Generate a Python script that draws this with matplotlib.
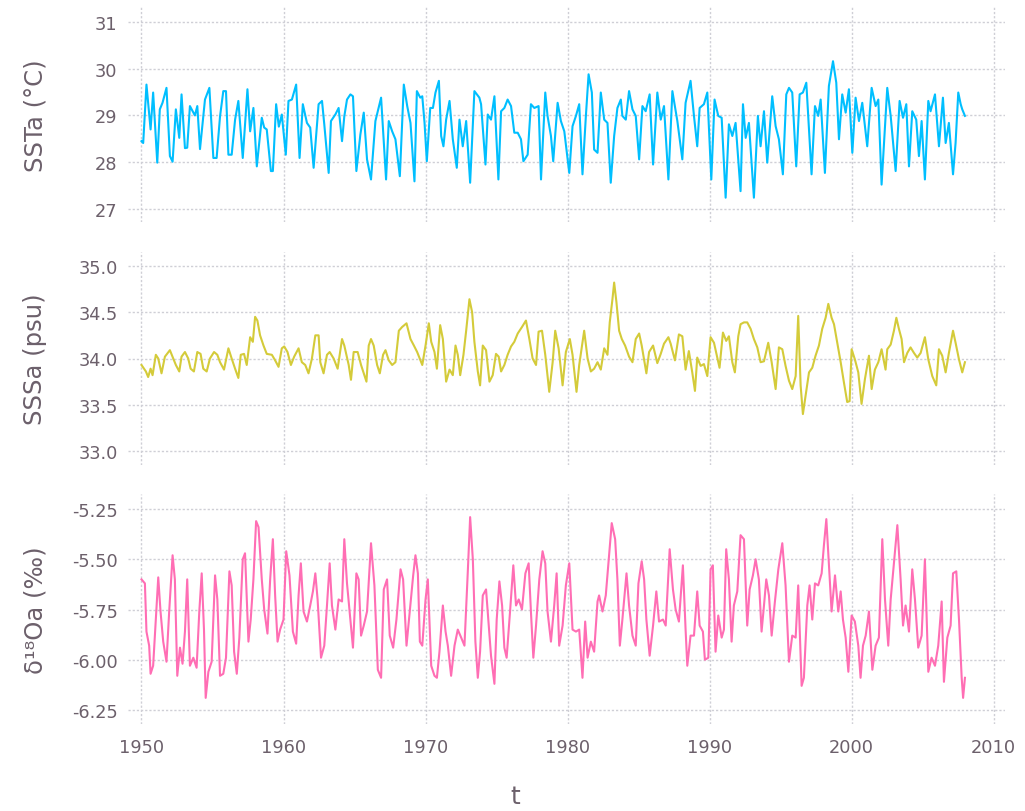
import matplotlib.pyplot as plt

# values (year, value) at turning points
sst_t = [1950.00, 1950.12, 1950.35, 1950.64, 1950.82, 1951.11, 1951.29, 1951.48, 1951.76, 1952.00,
         1952.19, 1952.42, 1952.66, 1952.82, 1953.06, 1953.22, 1953.41, 1953.76, 1953.93, 1954.12,
         1954.47, 1954.78, 1955.06, 1955.29, 1955.53, 1955.76, 1955.95, 1956.12, 1956.35, 1956.59,
         1956.82, 1957.13, 1957.46, 1957.65, 1957.88, 1958.12, 1958.47, 1958.64, 1958.82, 1959.11,
         1959.25, 1959.48, 1959.67, 1959.88, 1960.16, 1960.35, 1960.59, 1960.89, 1961.13, 1961.36,
         1961.65, 1961.88, 1962.12, 1962.47, 1962.71, 1962.87, 1963.18, 1963.34, 1963.65, 1963.88,
         1964.12, 1964.28, 1964.47, 1964.71, 1964.89, 1965.13, 1965.41, 1965.65, 1965.88, 1966.16,
         1966.47, 1966.87, 1967.22, 1967.41, 1967.65, 1967.88, 1968.19, 1968.47, 1968.71, 1968.94,
         1969.22, 1969.39, 1969.63, 1969.77, 1969.93, 1970.09, 1970.33, 1970.52, 1970.70, 1970.94,
         1971.10, 1971.26, 1971.45, 1971.69, 1971.92, 1972.20, 1972.39, 1972.62, 1972.86, 1973.14,
         1973.44, 1973.79, 1973.91, 1974.22, 1974.38, 1974.61, 1974.85, 1975.13, 1975.32, 1975.55,
         1975.78, 1976.02, 1976.25, 1976.49, 1976.72, 1976.89, 1977.19, 1977.42, 1977.66, 1977.96,
         1978.13, 1978.43, 1978.59, 1978.83, 1978.99, 1979.30, 1979.53, 1979.77, 1980.12, 1980.35,
         1980.59, 1980.82, 1981.05, 1981.29, 1981.48, 1981.71, 1981.87, 1982.11, 1982.34, 1982.58,
         1982.81, 1983.04, 1983.28, 1983.51, 1983.75, 1983.86, 1984.10, 1984.33, 1984.57, 1984.80,
         1985.04, 1985.27, 1985.50, 1985.78, 1986.02, 1986.32, 1986.56, 1986.79, 1987.10, 1987.38,
         1987.73, 1988.08, 1988.31, 1988.66, 1988.90, 1989.13, 1989.30, 1989.60, 1989.84, 1990.12,
         1990.35, 1990.61, 1990.85, 1991.13, 1991.36, 1991.60, 1991.83, 1992.18, 1992.35, 1992.54,
         1992.77, 1993.12, 1993.40, 1993.59, 1993.83, 1994.06, 1994.41, 1994.65, 1994.88, 1995.16,
         1995.40, 1995.59, 1995.82, 1996.10, 1996.34, 1996.57, 1996.81, 1997.18, 1997.42, 1997.65,
         1997.82, 1998.12, 1998.40, 1998.69, 1998.92, 1999.11, 1999.34, 1999.58, 1999.81, 2000.05,
         2000.28, 2000.52, 2000.75, 2001.10, 2001.41, 2001.69, 2001.88, 2002.11, 2002.51, 2002.75,
         2003.10, 2003.38, 2003.62, 2003.85, 2004.04, 2004.27, 2004.55, 2004.74, 2004.93, 2005.16,
         2005.40, 2005.56, 2005.87, 2006.15, 2006.43, 2006.62, 2006.85, 2007.14, 2007.32, 2007.51,
         2007.68, 2007.79, 2007.98]
sst = [28.45, 28.41, 29.66, 28.70, 29.49, 27.99, 29.13, 29.27, 29.59, 28.13,
       28.01, 29.13, 28.52, 29.45, 28.30, 28.31, 29.20, 29.00, 29.20, 28.28,
       29.34, 29.59, 28.09, 28.09, 28.98, 29.52, 29.52, 28.16, 28.16, 28.91,
       29.31, 28.09, 29.56, 28.66, 29.16, 27.91, 28.95, 28.74, 28.70, 27.81,
       27.81, 29.24, 28.76, 29.02, 28.16, 29.31, 29.34, 29.66, 28.09, 29.24,
       28.84, 28.74, 27.88, 29.24, 29.31, 28.81, 27.77, 28.88, 29.02, 29.16,
       28.45, 28.98, 29.34, 29.45, 29.41, 27.81, 28.59, 29.06, 28.06, 27.63,
       28.88, 29.38, 27.63, 28.88, 28.66, 28.49, 27.70, 29.66, 29.20, 28.84,
       27.59, 29.52, 29.38, 29.41, 28.84, 28.02, 29.16, 29.16, 29.49, 29.74,
       28.56, 28.34, 28.91, 29.31, 28.49, 27.88, 28.91, 28.34, 28.88, 27.56,
       29.52, 29.38, 29.24, 27.95, 29.02, 28.91, 29.41, 27.63, 29.09, 29.16,
       29.34, 29.20, 28.63, 28.63, 28.49, 28.02, 28.16, 29.24, 29.16, 29.20,
       27.63, 29.49, 28.99, 28.56, 28.02, 29.27, 28.88, 28.66, 27.77, 28.77,
       28.99, 29.24, 27.74, 28.99, 29.88, 29.49, 28.27, 28.20, 29.49, 28.91,
       28.84, 27.56, 28.56, 29.16, 29.34, 28.99, 28.91, 29.52, 29.13, 28.99,
       28.06, 29.20, 29.09, 29.45, 27.95, 29.49, 28.91, 29.20, 27.63, 29.52,
       28.88, 28.06, 29.27, 29.74, 28.99, 28.34, 29.16, 29.24, 29.49, 27.63,
       29.34, 28.99, 28.95, 27.24, 28.81, 28.56, 28.84, 27.38, 29.24, 28.52,
       28.84, 27.24, 28.99, 28.34, 29.09, 27.99, 29.41, 28.77, 28.49, 27.74,
       29.45, 29.59, 29.49, 27.91, 29.45, 29.49, 29.70, 27.74, 29.20, 28.99,
       29.34, 27.77, 29.63, 30.16, 29.70, 28.49, 29.45, 29.06, 29.56, 28.20,
       29.38, 28.88, 29.27, 28.34, 29.59, 29.20, 29.34, 27.52, 29.59, 28.99,
       27.81, 29.31, 28.95, 29.24, 27.91, 29.09, 28.91, 28.13, 28.88, 27.63,
       29.31, 29.09, 29.45, 28.34, 29.38, 28.41, 28.84, 27.74, 28.41, 29.49,
       29.24, 29.13, 28.99]

sss_t = [1950.00, 1950.31, 1950.47, 1950.64, 1950.78, 1951.01, 1951.18, 1951.41, 1951.65, 1952.00,
         1952.24, 1952.42, 1952.66, 1952.82, 1953.06, 1953.29, 1953.46, 1953.69, 1953.93, 1954.16,
         1954.35, 1954.59, 1954.82, 1955.11, 1955.34, 1955.53, 1955.81, 1956.12, 1956.35, 1956.59,
         1956.82, 1956.99, 1957.22, 1957.41, 1957.65, 1957.84, 1958.00, 1958.16, 1958.35, 1958.59,
         1958.82, 1959.18, 1959.41, 1959.65, 1959.88, 1960.05, 1960.28, 1960.52, 1960.75, 1961.06,
         1961.29, 1961.53, 1961.76, 1962.00, 1962.24, 1962.47, 1962.59, 1962.82, 1963.06, 1963.25,
         1963.53, 1963.81, 1964.12, 1964.28, 1964.59, 1964.75, 1964.94, 1965.22, 1965.46, 1965.84,
         1966.00, 1966.16, 1966.35, 1966.59, 1966.78, 1967.01, 1967.18, 1967.41, 1967.65, 1967.88,
         1968.12, 1968.35, 1968.66, 1968.94, 1969.18, 1969.41, 1969.77, 1970.00, 1970.23, 1970.40,
         1970.63, 1970.80, 1971.03, 1971.22, 1971.45, 1971.69, 1971.92, 1972.11, 1972.27, 1972.44,
         1972.67, 1972.86, 1973.09, 1973.28, 1973.44, 1973.68, 1973.84, 1974.03, 1974.26, 1974.50,
         1974.73, 1974.96, 1975.15, 1975.32, 1975.55, 1975.78, 1976.02, 1976.25, 1976.49, 1976.79,
         1977.07, 1977.31, 1977.54, 1977.78, 1977.96, 1978.20, 1978.43, 1978.71, 1978.95, 1979.13,
         1979.37, 1979.65, 1979.88, 1980.16, 1980.35, 1980.63, 1980.82, 1981.17, 1981.41, 1981.64,
         1981.87, 1982.11, 1982.34, 1982.58, 1982.81, 1982.97, 1983.16, 1983.28, 1983.44, 1983.63,
         1983.82, 1984.05, 1984.33, 1984.57, 1984.80, 1985.04, 1985.22, 1985.55, 1985.74, 1986.02,
         1986.32, 1986.56, 1986.79, 1987.10, 1987.26, 1987.56, 1987.84, 1988.08, 1988.31, 1988.54,
         1988.78, 1988.97, 1989.13, 1989.37, 1989.60, 1989.84, 1990.07, 1990.31, 1990.47, 1990.70,
         1990.94, 1991.17, 1991.36, 1991.60, 1991.78, 1992.02, 1992.18, 1992.42, 1992.65, 1992.89,
         1993.12, 1993.36, 1993.59, 1993.83, 1994.13, 1994.37, 1994.65, 1994.88, 1995.12, 1995.35,
         1995.59, 1995.82, 1996.06, 1996.24, 1996.41, 1996.57, 1996.76, 1997.00, 1997.23, 1997.46,
         1997.70, 1997.93, 1998.17, 1998.36, 1998.59, 1998.76, 1998.99, 1999.23, 1999.46, 1999.69,
         1999.86, 2000.00, 2000.23, 2000.47, 2000.70, 2000.94, 2001.22, 2001.41, 2001.64, 2001.88,
         2002.11, 2002.39, 2002.51, 2002.75, 2002.98, 2003.15, 2003.33, 2003.52, 2003.69, 2003.92,
         2004.15, 2004.39, 2004.62, 2004.86, 2005.16, 2005.40, 2005.68, 2005.96, 2006.15, 2006.38,
         2006.62, 2006.85, 2007.14, 2007.32, 2007.56, 2007.79, 2007.98]
sss = [33.93, 33.86, 33.80, 33.89, 33.82, 34.04, 34.00, 33.84, 34.02, 34.09,
       34.00, 33.93, 33.86, 34.02, 34.07, 34.00, 33.89, 33.86, 34.07, 34.05,
       33.89, 33.86, 34.00, 34.07, 34.04, 33.96, 33.88, 34.11, 34.00, 33.89,
       33.79, 34.04, 34.05, 33.93, 34.23, 34.18, 34.45, 34.41, 34.25, 34.14,
       34.05, 34.04, 33.98, 33.91, 34.11, 34.13, 34.07, 33.93, 34.02, 34.11,
       33.96, 33.93, 33.84, 34.00, 34.25, 34.25, 33.96, 33.84, 34.04, 34.07,
       34.00, 33.89, 34.21, 34.14, 33.93, 33.77, 34.07, 34.07, 33.93, 33.75,
       34.14, 34.21, 34.14, 33.93, 33.84, 34.04, 34.09, 33.98, 33.93, 33.96,
       34.30, 34.34, 34.38, 34.21, 34.14, 34.07, 33.93, 34.14, 34.38, 34.18,
       34.07, 33.89, 34.36, 34.21, 33.75, 33.88, 33.82, 34.14, 34.04, 33.82,
       34.04, 34.30, 34.64, 34.50, 34.18, 33.86, 33.71, 34.14, 34.09, 33.75,
       33.82, 34.05, 34.02, 33.86, 33.93, 34.04, 34.13, 34.18, 34.27, 34.34,
       34.41, 34.21, 34.00, 33.93, 34.29, 34.30, 34.04, 33.64, 33.96, 34.30,
       34.11, 33.71, 34.07, 34.21, 34.04, 33.64, 33.93, 34.30, 34.00, 33.86,
       33.89, 33.96, 33.88, 34.11, 34.04, 34.39, 34.64, 34.82, 34.61, 34.30,
       34.21, 34.14, 34.02, 33.96, 34.21, 34.27, 34.14, 33.84, 34.07, 34.14,
       33.95, 34.05, 34.16, 34.23, 34.16, 33.98, 34.26, 34.24, 33.88, 34.08,
       33.85, 33.65, 34.01, 33.92, 33.94, 33.81, 34.23, 34.17, 34.06, 33.90,
       34.28, 34.19, 34.24, 33.96, 33.85, 34.24, 34.37, 34.39, 34.39, 34.32,
       34.21, 34.12, 33.96, 33.97, 34.17, 33.96, 33.67, 34.12, 34.10, 33.92,
       33.76, 33.67, 33.81, 34.46, 33.71, 33.40, 33.60, 33.85, 33.90, 34.03,
       34.14, 34.32, 34.44, 34.59, 34.44, 34.37, 34.17, 33.96, 33.74, 33.53,
       33.54, 34.10, 33.99, 33.85, 33.51, 33.78, 34.03, 33.67, 33.88, 33.96,
       34.10, 33.88, 34.10, 34.15, 34.30, 34.44, 34.32, 34.21, 33.96, 34.06,
       34.12, 34.06, 34.01, 34.06, 34.23, 33.99, 33.81, 33.71, 34.10, 34.03,
       33.85, 34.06, 34.30, 34.17, 33.99, 33.85, 33.96]

d18o_t = [1950.00, 1950.24, 1950.35, 1950.54, 1950.64, 1950.82, 1951.01, 1951.18, 1951.34, 1951.53,
          1951.76, 1951.95, 1952.19, 1952.35, 1952.52, 1952.71, 1952.89, 1953.06, 1953.22, 1953.41,
          1953.65, 1953.88, 1954.07, 1954.24, 1954.40, 1954.52, 1954.71, 1954.94, 1955.18, 1955.34,
          1955.53, 1955.76, 1955.95, 1956.19, 1956.35, 1956.52, 1956.71, 1956.89, 1957.13, 1957.29,
          1957.53, 1957.69, 1957.88, 1958.07, 1958.24, 1958.47, 1958.64, 1958.87, 1959.06, 1959.25,
          1959.41, 1959.58, 1959.76, 1960.00, 1960.19, 1960.42, 1960.66, 1960.89, 1961.06, 1961.22,
          1961.41, 1961.65, 1961.88, 1962.07, 1962.24, 1962.40, 1962.64, 1962.87, 1963.06, 1963.25,
          1963.41, 1963.65, 1963.88, 1964.12, 1964.28, 1964.47, 1964.71, 1964.89, 1965.13, 1965.29,
          1965.46, 1965.65, 1965.88, 1966.16, 1966.40, 1966.64, 1966.87, 1967.06, 1967.29, 1967.48,
          1967.72, 1967.95, 1968.24, 1968.42, 1968.66, 1968.89, 1969.13, 1969.29, 1969.46, 1969.60,
          1969.77, 1970.00, 1970.16, 1970.40, 1970.63, 1970.80, 1970.98, 1971.22, 1971.41, 1971.57,
          1971.80, 1972.04, 1972.27, 1972.51, 1972.74, 1972.97, 1973.14, 1973.33, 1973.51, 1973.68,
          1973.84, 1974.03, 1974.26, 1974.45, 1974.61, 1974.85, 1975.01, 1975.20, 1975.39, 1975.55,
          1975.71, 1975.95, 1976.18, 1976.37, 1976.56, 1976.79, 1977.03, 1977.26, 1977.42, 1977.59,
          1977.78, 1978.01, 1978.24, 1978.43, 1978.59, 1978.83, 1979.06, 1979.23, 1979.41, 1979.65,
          1979.88, 1980.12, 1980.35, 1980.59, 1980.82, 1981.05, 1981.24, 1981.41, 1981.64, 1981.87,
          1982.11, 1982.22, 1982.46, 1982.69, 1982.88, 1983.11, 1983.35, 1983.51, 1983.68, 1983.86,
          1984.15, 1984.33, 1984.57, 1984.80, 1984.99, 1985.22, 1985.39, 1985.55, 1985.78, 1986.02,
          1986.25, 1986.44, 1986.72, 1986.91, 1987.19, 1987.42, 1987.61, 1987.84, 1988.12, 1988.31,
          1988.43, 1988.66, 1988.90, 1989.13, 1989.30, 1989.53, 1989.67, 1989.91, 1990.07, 1990.23,
          1990.42, 1990.61, 1990.85, 1991.01, 1991.17, 1991.36, 1991.55, 1991.71, 1991.95, 1992.18,
          1992.42, 1992.65, 1992.82, 1993.05, 1993.24, 1993.47, 1993.66, 1993.83, 1993.99, 1994.18,
          1994.37, 1994.60, 1994.84, 1995.12, 1995.35, 1995.59, 1995.82, 1996.06, 1996.24, 1996.48,
          1996.64, 1996.88, 1997.04, 1997.23, 1997.42, 1997.65, 1997.89, 1998.05, 1998.22, 1998.40,
          1998.59, 1998.83, 1999.06, 1999.23, 1999.39, 1999.58, 1999.77, 2000.00, 2000.23, 2000.47,
          2000.63, 2000.80, 2000.99, 2001.22, 2001.46, 2001.69, 2001.92, 2002.16, 2002.35, 2002.58,
          2002.75, 2002.98, 2003.22, 2003.45, 2003.62, 2003.80, 2004.04, 2004.27, 2004.46, 2004.69,
          2004.93, 2005.16, 2005.40, 2005.63, 2005.87, 2006.10, 2006.34, 2006.50, 2006.74, 2006.97,
          2007.14, 2007.37, 2007.56, 2007.75, 2007.85, 2007.98]
d18o = [-5.60, -5.62, -5.86, -5.93, -6.07, -6.03, -5.80, -5.59, -5.76, -5.91,
        -6.01, -5.76, -5.48, -5.60, -6.08, -5.94, -6.02, -5.86, -5.60, -6.03,
        -5.99, -6.04, -5.76, -5.57, -5.85, -6.19, -6.06, -6.01, -5.58, -5.70,
        -6.08, -6.07, -5.99, -5.56, -5.63, -5.96, -6.07, -5.89, -5.50, -5.47,
        -5.91, -5.80, -5.60, -5.31, -5.34, -5.60, -5.75, -5.87, -5.60, -5.40,
        -5.68, -5.91, -5.85, -5.80, -5.46, -5.58, -5.86, -5.92, -5.68, -5.52,
        -5.76, -5.81, -5.73, -5.66, -5.57, -5.70, -5.99, -5.93, -5.73, -5.52,
        -5.73, -5.85, -5.70, -5.71, -5.40, -5.62, -5.80, -5.94, -5.57, -5.60,
        -5.88, -5.83, -5.76, -5.42, -5.63, -6.05, -6.09, -5.65, -5.60, -5.88,
        -5.94, -5.80, -5.55, -5.60, -5.93, -5.76, -5.58, -5.48, -5.57, -5.91,
        -5.93, -5.70, -5.60, -6.03, -6.08, -6.09, -5.96, -5.73, -5.86, -5.93,
        -6.08, -5.93, -5.85, -5.89, -5.93, -5.57, -5.29, -5.50, -5.91, -6.09,
        -5.96, -5.68, -5.65, -5.83, -5.98, -6.12, -5.80, -5.61, -5.73, -5.94,
        -5.99, -5.76, -5.53, -5.73, -5.70, -5.75, -5.57, -5.52, -5.76, -5.99,
        -5.83, -5.60, -5.46, -5.52, -5.76, -5.91, -5.73, -5.57, -5.93, -5.83,
        -5.63, -5.52, -5.85, -5.86, -5.85, -6.09, -5.81, -5.99, -5.91, -5.96,
        -5.71, -5.68, -5.76, -5.68, -5.52, -5.32, -5.40, -5.60, -5.93, -5.80,
        -5.57, -5.73, -5.88, -5.93, -5.62, -5.51, -5.60, -5.80, -5.98, -5.83,
        -5.66, -5.81, -5.80, -5.83, -5.45, -5.65, -5.75, -5.81, -5.53, -5.85,
        -6.03, -5.88, -5.88, -5.66, -5.83, -5.86, -6.00, -5.99, -5.55, -5.53,
        -5.96, -5.78, -5.89, -5.85, -5.45, -5.60, -5.91, -5.73, -5.66, -5.38,
        -5.40, -5.83, -5.65, -5.58, -5.50, -5.60, -5.86, -5.73, -5.60, -5.68,
        -5.88, -5.71, -5.55, -5.42, -5.63, -6.01, -5.88, -5.89, -5.63, -6.13,
        -6.09, -5.73, -5.63, -5.80, -5.62, -5.63, -5.57, -5.43, -5.30, -5.52,
        -5.76, -5.58, -5.76, -5.66, -5.80, -5.89, -6.06, -5.78, -5.81, -5.93,
        -6.09, -5.93, -5.88, -5.76, -6.05, -5.93, -5.89, -5.40, -5.70, -5.93,
        -5.70, -5.52, -5.33, -5.60, -5.83, -5.73, -5.86, -5.55, -5.70, -5.94,
        -5.88, -5.50, -6.06, -5.99, -6.03, -5.93, -5.71, -6.11, -5.89, -5.83,
        -5.57, -5.56, -5.80, -6.09, -6.19, -6.09]

x_ticks = [1950, 1960, 1970, 1980, 1990, 2000, 2010]
sst_ticks = [27, 28, 29, 30, 31]
sss_ticks = [33.0, 33.5, 34.0, 34.5, 35.0]
d18o_ticks = [-6.25, -6.00, -5.75, -5.50, -5.25]

label_color = "#6c606b"
grid_color = "#CFCFD6"

W, H = 1025, 812
fig = plt.figure(figsize=(W / 100, H / 100), dpi=100)

# (top px, bottom px, ylim, ticks, tick format, label, colour, t, y)
panels = [
    (8, 223, (26.72, 31.32), sst_ticks, "{:.0f}", "SSTa (°C)", "#00BFFF", sst_t, sst),
    (253, 466, (32.85, 35.15), sss_ticks, "{:.1f}", "SSSa (psu)", "#D4CB3A", sss_t, sss),
    (495, 725, (-6.32, -5.175), d18o_ticks, "{:.2f}", "δ¹⁸Oa (‰)", "#FF6EB4", d18o_t, d18o),
]

left, right = 128, 1005
axes = []
for top, bottom, ylim, ticks, fmt, label, color, t, y in panels:
    ax = fig.add_axes([left / W, 1 - bottom / H, (right - left) / W, (bottom - top) / H])
    ax.plot(t, y, color=color, lw=1.5, zorder=3)
    ax.set_xlim(1949.05, 2010.8)
    ax.set_ylim(*ylim)
    ax.set_xticks(x_ticks)
    ax.set_yticks(ticks)
    ax.set_yticklabels([fmt.format(v) for v in ticks])
    ax.grid(True, color=grid_color, lw=1.0, ls=(0, (1.6, 1.4)))
    for s in ax.spines.values():
        s.set_visible(False)
    ax.tick_params(length=0, labelsize=12.8, labelcolor=label_color, pad=7.5)
    ax.set_ylabel(label, fontsize=17.5, color=label_color, va="center")
    ax.yaxis.set_label_coords((35 - left) / (right - left), 0.5)
    axes.append(ax)

for ax in axes[:-1]:
    ax.tick_params(labelbottom=False)
axes[-1].tick_params(axis="x", pad=10)

fig.text(515 / W, 1 - 797 / H, "t", ha="center", va="center", fontsize=18, color=label_color)

fig.savefig("out.png", dpi=100)
